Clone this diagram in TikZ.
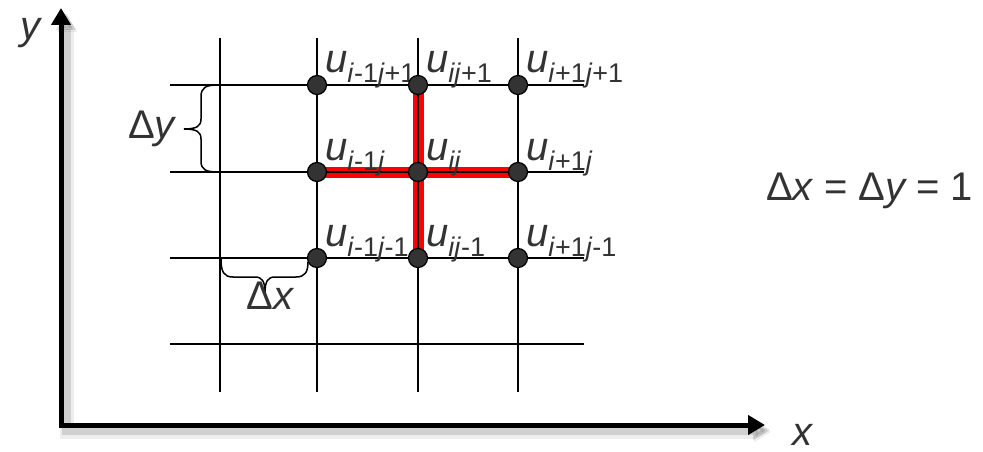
\documentclass[tikz,border=0pt]{standalone}
\usepackage{fontspec}
\setmainfont{Liberation Sans}
\usetikzlibrary{arrows.meta}
\definecolor{ink}{HTML}{333333}
\definecolor{stencil}{HTML}{FF0000}
\pgfdeclarelayer{bg}
\pgfsetlayers{bg,main}
\newcommand{\dg}[1]{\textup{#1}}
\newcommand{\usub}[1]{\textit{u}\raisebox{-10pt}{\fontsize{27}{29}\selectfont #1}}

\begin{document}
\begin{tikzpicture}[
  x=1pt, y=-1pt,
  font=\fontsize{40}{44}\selectfont\itshape,
  gridline/.style={line width=1.6pt, black},
  point/.style={circle, draw=black, line width=1.2pt, fill=ink, minimum size=19pt, inner sep=0pt},
  txt/.style={text=ink, inner sep=0pt},
  ulabel/.style={txt, anchor=base west},
  axis/.style={line width=5pt, {Triangle[length=17pt,width=19pt]}-{Triangle[length=17pt,width=19pt]}},
  curly/.style={line width=1.5pt, black},
  redline/.style={line width=11pt, stencil}
]
  \useasboundingbox (0,0) rectangle (983,452);

  % axes with a soft shadow
  \coordinate (O) at (61,425);
  \coordinate (ytip) at (61,8);
  \coordinate (xtip) at (765,425);
  \draw[axis, black, opacity=0.07, line width=14pt, transform canvas={shift={(6pt,-7pt)}}] (ytip) |- (xtip);
  \draw[axis, black, opacity=0.12, line width=9pt, transform canvas={shift={(5pt,-5pt)}}] (ytip) |- (xtip);
  \draw[axis] (ytip) |- (xtip);
  \node[txt, anchor=base] (ylab) at (30,40) {y};
  \node[txt, anchor=base] (xlab) at (802,445) {x};

  % grid points and their labels
  \foreach \c/\x/\ci in {1/317/{\textit{i}\dg{-1}}, 2/418/{\textit{i}}, 3/518/{\textit{i}\dg{+1}}}
    \foreach \r/\y/\rj in {1/85/{\textit{j}\dg{+1}}, 2/172/{\textit{j}}, 3/258/{\textit{j}\dg{-1}}} {
      \node[point] (n\c\r) at (\x,\y) {};
      \node[ulabel] (l\c\r) at (\x+8,\y-12) {\usub{\ci\rj}};
    }

  \begin{pgfonlayer}{bg}
    % five-point stencil
    \draw[redline] (n12.center) -- (n32.center);
    \draw[redline] (n21.center) -- (n23.center);
    \foreach \x in {220,317,418,518} \draw[gridline] (\x,38) -- (\x,392);
    \foreach \y in {85,172,258,344} \draw[gridline] (170,\y) -- (584,\y);
  \end{pgfonlayer}

  % spacings
  \draw[curly] (219,85) .. controls (206,85) and (201,87) .. (201,97) -- (201,119)
    .. controls (201,126) and (197,129) .. (184,129)
    .. controls (197,129) and (201,132) .. (201,139) -- (201,161)
    .. controls (201,170) and (206,172) .. (219,172);
  \node[txt, anchor=base east] (dy) at (175,138) {\upshape Δ\itshape y};
  \draw[curly] (221,259) .. controls (221,272) and (224,277) .. (233,277) -- (255,277)
    .. controls (262,277) and (265,281) .. (265,293)
    .. controls (265,281) and (268,277) .. (275,277) -- (296,277)
    .. controls (305,277) and (308,272) .. (308,262);
  \node[txt, anchor=base] (dx) at (270,309) {\upshape Δ\itshape x};

  \node[txt, anchor=base west] (eq) at (766,200) {\upshape Δ\itshape x \upshape= Δ\itshape y \upshape= 1};
\end{tikzpicture}
\end{document}
